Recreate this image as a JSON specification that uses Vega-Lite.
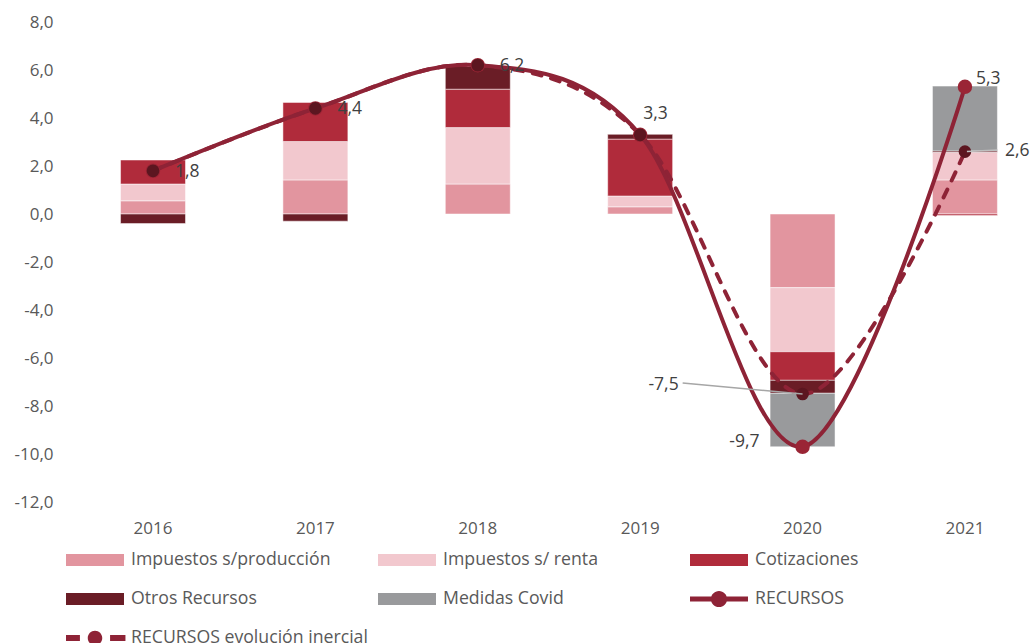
{
  "$schema": "https://vega.github.io/schema/vega-lite/v6.json",
  "width": 961,
  "height": 480,
  "autosize": "none",
  "padding": {"left": 72, "top": 22, "right": 0, "bottom": 141},
  "background": "#ffffff",
  "config": {
    "view": {"stroke": null},
    "font": "Open Sans",
    "axis": {"labelFont": "Open Sans", "labelFontSize": 17, "labelColor": "#595959", "domain": false, "ticks": false, "tickSize": 0, "grid": false, "title": null},
    "legend": {"orient": "none", "legendX": -6, "legendY": 528, "columns": 3, "direction": "horizontal", "gridAlign": "all", "columnPadding": 10, "rowPadding": 19, "symbolSize": 3364, "symbolStrokeWidth": 0, "symbolOpacity": 1, "labelFont": "Open Sans", "labelFontSize": 17.7, "labelColor": "#595959", "labelOffset": 7, "labelLimit": 400, "clipHeight": 20, "padding": 0}
  },
  "datasets": {
    "bars": [
      {"year": "2016", "series": "Impuestos s/producción", "value": 0.55, "ord": 1},
      {"year": "2016", "series": "Impuestos s/ renta", "value": 0.7, "ord": 2},
      {"year": "2016", "series": "Cotizaciones", "value": 1.0, "ord": 3},
      {"year": "2016", "series": "Otros Recursos", "value": -0.4, "ord": 4},
      {"year": "2017", "series": "Impuestos s/producción", "value": 1.42, "ord": 1},
      {"year": "2017", "series": "Impuestos s/ renta", "value": 1.6, "ord": 2},
      {"year": "2017", "series": "Cotizaciones", "value": 1.63, "ord": 3},
      {"year": "2017", "series": "Otros Recursos", "value": -0.3, "ord": 4},
      {"year": "2018", "series": "Impuestos s/producción", "value": 1.25, "ord": 1},
      {"year": "2018", "series": "Impuestos s/ renta", "value": 2.35, "ord": 2},
      {"year": "2018", "series": "Cotizaciones", "value": 1.6, "ord": 3},
      {"year": "2018", "series": "Otros Recursos", "value": 0.95, "ord": 4},
      {"year": "2019", "series": "Impuestos s/producción", "value": 0.3, "ord": 1},
      {"year": "2019", "series": "Impuestos s/ renta", "value": 0.45, "ord": 2},
      {"year": "2019", "series": "Cotizaciones", "value": 2.37, "ord": 3},
      {"year": "2019", "series": "Otros Recursos", "value": 0.2, "ord": 4},
      {"year": "2020", "series": "Impuestos s/producción", "value": -3.07, "ord": 1},
      {"year": "2020", "series": "Impuestos s/ renta", "value": -2.67, "ord": 2},
      {"year": "2020", "series": "Cotizaciones", "value": -1.19, "ord": 3},
      {"year": "2020", "series": "Otros Recursos", "value": -0.54, "ord": 4},
      {"year": "2020", "series": "Medidas Covid", "value": -2.23, "ord": 5},
      {"year": "2021", "series": "Impuestos s/producción", "value": 1.42, "ord": 1},
      {"year": "2021", "series": "Impuestos s/ renta", "value": 1.15, "ord": 2},
      {"year": "2021", "series": "Cotizaciones", "value": -0.06, "ord": 3},
      {"year": "2021", "series": "Otros Recursos", "value": 0.06, "ord": 4},
      {"year": "2021", "series": "Medidas Covid", "value": 2.7, "ord": 5}
    ],
    "lines": [
      {"year": "2016", "series": "RECURSOS", "value": 1.8},
      {"year": "2017", "series": "RECURSOS", "value": 4.4},
      {"year": "2018", "series": "RECURSOS", "value": 6.2},
      {"year": "2019", "series": "RECURSOS", "value": 3.3},
      {"year": "2020", "series": "RECURSOS", "value": -9.7},
      {"year": "2021", "series": "RECURSOS", "value": 5.3},
      {"year": "2016", "series": "RECURSOS evolución inercial", "value": 1.8},
      {"year": "2017", "series": "RECURSOS evolución inercial", "value": 4.4},
      {"year": "2018", "series": "RECURSOS evolución inercial", "value": 6.2},
      {"year": "2019", "series": "RECURSOS evolución inercial", "value": 3.3},
      {"year": "2020", "series": "RECURSOS evolución inercial", "value": -7.5},
      {"year": "2021", "series": "RECURSOS evolución inercial", "value": 2.6}
    ],
    "labels": [
      {"year": "2016", "value": 1.8, "label": "1,8"},
      {"year": "2017", "value": 4.4, "label": "4,4"},
      {"year": "2018", "value": 6.2, "label": "6,2"},
      {"year": "2019", "value": 3.3, "label": "3,3"},
      {"year": "2020", "value": -7.5, "label": "-7,5"},
      {"year": "2020", "value": -9.7, "label": "-9,7"},
      {"year": "2021", "value": 5.3, "label": "5,3"},
      {"year": "2021", "value": 2.6, "label": "2,6"}
    ],
    "legend": [
      {"series": "Impuestos s/producción"},
      {"series": "Impuestos s/ renta"},
      {"series": "Cotizaciones"},
      {"series": "Otros Recursos"},
      {"series": "Medidas Covid"},
      {"series": "RECURSOS"},
      {"series": "RECURSOS evolución inercial"}
    ]
  },
  "layer": [
    {
      "mark": {"type": "rule", "color": "#d9d9d9", "strokeWidth": 1.5},
      "encoding": {"y": {"datum": 0, "type": "quantitative", "scale": {"domain": [-12, 8], "nice": false, "zero": false}}}
    },
    {
      "data": {"name": "bars"},
      "mark": {"type": "bar", "stroke": "#ffffff", "strokeWidth": 0.5},
      "encoding": {
        "x": {"field": "year", "type": "ordinal", "scale": {"paddingInner": 0.6, "paddingOuter": 0.259, "align": 0.577}, "axis": {"labelAngle": 0, "labelPadding": 18, "orient": "bottom"}},
        "y": {"field": "value", "type": "quantitative", "stack": "zero", "scale": {"domain": [-12, 8], "nice": false, "zero": false}, "axis": {"values": [-12, -10, -8, -6, -4, -2, 0, 2, 4, 6, 8], "labelPadding": 19, "labelExpr": "replace(replace(format(datum.value, '.1f'), '.', ','), '\u2212', '-')"}},
        "color": {"field": "series", "type": "nominal", "title": null, "scale": {"domain": ["Impuestos s/producción", "Impuestos s/ renta", "Cotizaciones", "Otros Recursos", "Medidas Covid", "RECURSOS", "RECURSOS evolución inercial"], "range": ["#e2959f", "#f2c8ce", "#b02b3b", "#6a1d26", "#999a9c", "#8e2336", "#8e2336"]}},
        "order": {"field": "ord", "type": "quantitative"}
      }
    },
    {
      "data": {"name": "lines"},
      "transform": [{"filter": "datum.series == 'RECURSOS evolución inercial'"}],
      "mark": {"type": "line", "interpolate": "cardinal", "tension": 0, "color": "#8e2336", "strokeWidth": 4, "strokeDash": [9, 10], "strokeCap": "round"},
      "encoding": {"x": {"field": "year", "type": "ordinal"}, "y": {"field": "value", "type": "quantitative"}}
    },
    {
      "data": {"name": "lines"},
      "transform": [{"filter": "datum.series == 'RECURSOS'"}],
      "mark": {"type": "line", "interpolate": "cardinal", "tension": 0, "color": "#8e2336", "strokeWidth": 4},
      "encoding": {"x": {"field": "year", "type": "ordinal"}, "y": {"field": "value", "type": "quantitative"}}
    },
    {
      "data": {"name": "lines"},
      "transform": [{"filter": "datum.series == 'RECURSOS'"}],
      "mark": {"type": "circle", "color": "#9a2535", "size": 210, "opacity": 1},
      "encoding": {"x": {"field": "year", "type": "ordinal"}, "y": {"field": "value", "type": "quantitative"}}
    },
    {
      "data": {"name": "lines"},
      "transform": [{"filter": "datum.series == 'RECURSOS evolución inercial'"}],
      "mark": {"type": "circle", "color": "#5c1620", "size": 160, "opacity": 1},
      "encoding": {"x": {"field": "year", "type": "ordinal"}, "y": {"field": "value", "type": "quantitative"}}
    },
    {
      "data": {"name": "labels"},
      "transform": [{"filter": "datum.label == '-7,5'"}],
      "mark": {"type": "rule", "color": "#a6a6a6", "strokeWidth": 1.5},
      "encoding": {
        "x": {"field": "year", "type": "ordinal", "bandPosition": -1.346},
        "x2": {"field": "year", "bandPosition": 0.5},
        "y": {"datum": -7.04, "type": "quantitative"},
        "y2": {"datum": -7.5}
      }
    },
    {
      "data": {"name": "labels"},
      "transform": [{"filter": "datum.label == '2,6'"}],
      "mark": {"type": "rule", "color": "#bfbfbf", "strokeWidth": 1.5},
      "encoding": {
        "x": {"field": "year", "type": "ordinal", "bandPosition": 0.53},
        "x2": {"field": "year", "bandPosition": 1.0},
        "y": {"datum": 2.6, "type": "quantitative"},
        "y2": {"datum": 2.67}
      }
    },
    {
      "data": {"name": "labels"},
      "transform": [{"filter": {"field": "label", "oneOf": ["1,8", "4,4", "6,2"]}}],
      "mark": {"type": "text", "align": "left", "baseline": "middle", "dx": 22, "dy": 1, "font": "Open Sans", "fontSize": 17.5, "color": "#404040"},
      "encoding": {"x": {"field": "year", "type": "ordinal"}, "y": {"field": "value", "type": "quantitative"}, "text": {"field": "label"}}
    },
    {
      "data": {"name": "labels"},
      "transform": [{"filter": "datum.label == '3,3'"}],
      "mark": {"type": "text", "align": "left", "baseline": "middle", "dx": 3, "dy": -21, "font": "Open Sans", "fontSize": 17.5, "color": "#404040"},
      "encoding": {"x": {"field": "year", "type": "ordinal"}, "y": {"field": "value", "type": "quantitative"}, "text": {"field": "label"}}
    },
    {
      "data": {"name": "labels"},
      "transform": [{"filter": "datum.label == '5,3'"}],
      "mark": {"type": "text", "align": "left", "baseline": "middle", "dx": 11, "dy": -8, "font": "Open Sans", "fontSize": 17.5, "color": "#404040"},
      "encoding": {"x": {"field": "year", "type": "ordinal"}, "y": {"field": "value", "type": "quantitative"}, "text": {"field": "label"}}
    },
    {
      "data": {"name": "labels"},
      "transform": [{"filter": "datum.label == '2,6'"}],
      "mark": {"type": "text", "align": "left", "baseline": "middle", "dx": 40, "dy": -1, "font": "Open Sans", "fontSize": 17.5, "color": "#404040"},
      "encoding": {"x": {"field": "year", "type": "ordinal"}, "y": {"field": "value", "type": "quantitative"}, "text": {"field": "label"}}
    },
    {
      "data": {"name": "labels"},
      "transform": [{"filter": "datum.label == '-9,7'"}],
      "mark": {"type": "text", "align": "right", "baseline": "middle", "dx": -43, "dy": -5, "font": "Open Sans", "fontSize": 17.5, "color": "#404040"},
      "encoding": {"x": {"field": "year", "type": "ordinal"}, "y": {"field": "value", "type": "quantitative"}, "text": {"field": "label"}}
    },
    {
      "data": {"name": "labels"},
      "transform": [{"filter": "datum.label == '-7,5'"}],
      "mark": {"type": "text", "align": "right", "baseline": "middle", "dx": -4, "dy": -9, "font": "Open Sans", "fontSize": 17.5, "color": "#404040"},
      "encoding": {"x": {"field": "year", "type": "ordinal", "bandPosition": -1.346}, "y": {"field": "value", "type": "quantitative"}, "text": {"field": "label"}}
    },
    {
      "data": {"name": "legend"},
      "transform": [{"filter": "datum.series == 'none'"}],
      "mark": {"type": "point", "filled": true},
      "encoding": {
        "color": {"field": "series", "type": "nominal", "title": null, "scale": {"domain": ["Impuestos s/producción", "Impuestos s/ renta", "Cotizaciones", "Otros Recursos", "Medidas Covid", "RECURSOS", "RECURSOS evolución inercial"], "range": ["#e2959f", "#f2c8ce", "#b02b3b", "#6a1d26", "#999a9c", "#8e2336", "#8e2336"]}},
        "shape": {"field": "series", "type": "nominal", "title": null, "scale": {"domain": ["Impuestos s/producción", "Impuestos s/ renta", "Cotizaciones", "Otros Recursos", "Medidas Covid", "RECURSOS", "RECURSOS evolución inercial"], "range": ["M-1,-0.21H1V0.21H-1Z", "M-1,-0.21H1V0.21H-1Z", "M-1,-0.21H1V0.21H-1Z", "M-1,-0.21H1V0.21H-1Z", "M-1,-0.21H1V0.21H-1Z", "M-1,-0.086H1V0.086H-1Z M-0.28,0A0.28,0.28 0 1,1 0.28,0A0.28,0.28 0 1,1 -0.28,0Z", "M-1.05,-0.1H-0.52V0.1H-1.05Z M0.52,-0.1H1.05V0.1H0.52Z M-0.25,0A0.25,0.25 0 1,1 0.25,0A0.25,0.25 0 1,1 -0.25,0Z"]}}
      }
    }
  ]
}
